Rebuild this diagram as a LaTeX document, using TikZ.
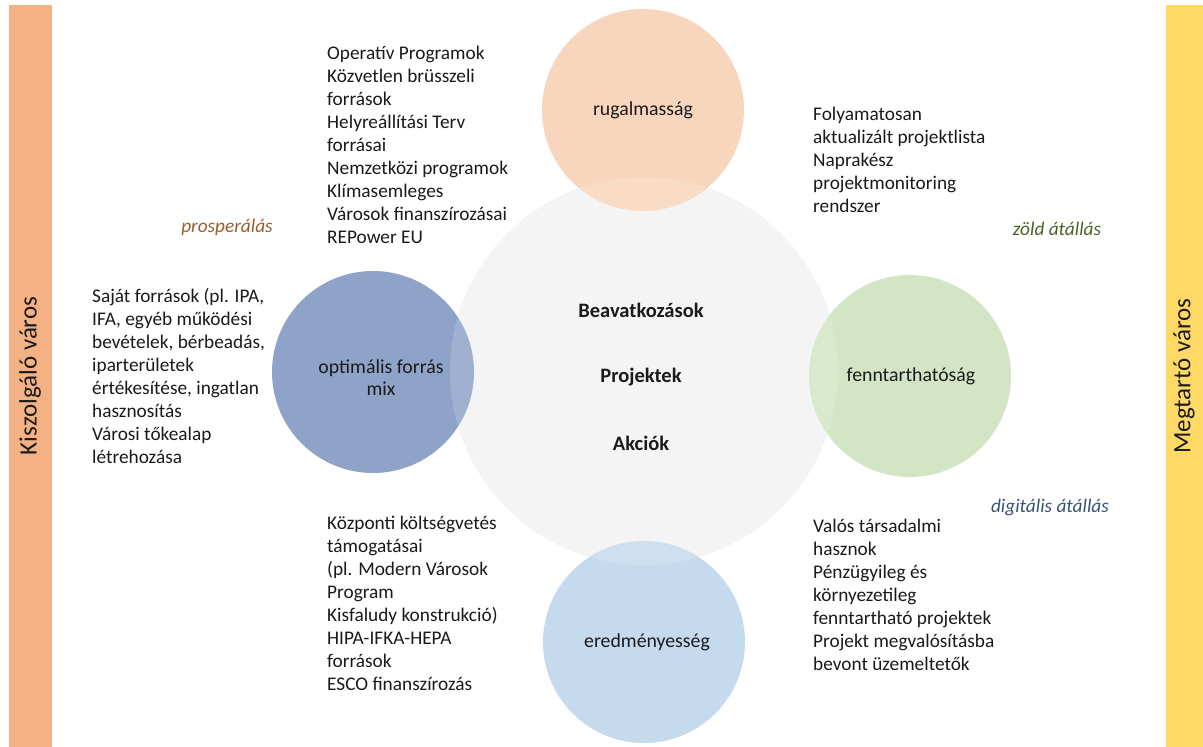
\documentclass[tikz,border=0pt]{standalone}
\usepackage{fontspec}
\setmainfont{Carlito}
\definecolor{barL}{HTML}{F4B183}
\definecolor{barR}{HTML}{FFD966}
\definecolor{peach}{HTML}{F8D6BD}
\definecolor{slate}{HTML}{8FA3C8}
\definecolor{sage}{HTML}{D4E5C6}
\definecolor{sky}{HTML}{C6DAEE}
\definecolor{hub}{HTML}{F4F4F4}
\definecolor{ink}{HTML}{1A1A1A}
\definecolor{brownt}{HTML}{9A5E2E}
\definecolor{greent}{HTML}{4F6228}
\definecolor{bluet}{HTML}{3A5278}
\begin{document}
\begin{tikzpicture}[x=1pt,y=-1pt,
  txt/.style={font=\fontsize{19.3}{23}\selectfont, text=ink, inner sep=0pt, align=left, anchor=north west},
  lab/.style={font=\fontsize{19.8}{22}\selectfont, text=ink, align=center, inner sep=0pt},
  boldlab/.style={font=\fontsize{20.5}{23}\selectfont\bfseries, text=ink, inner sep=0pt},
  itl/.style={font=\fontsize{19.3}{23}\selectfont\itshape, inner sep=0pt},
  sat/.style={circle, minimum size=202pt, inner sep=0pt, draw=none},
  barlab/.style={font=\fontsize{25}{30}\selectfont, text=ink, rotate=90, inner sep=0pt}]
\useasboundingbox (0,0) rectangle (1203,747);
\fill[white] (0,0) rectangle (1203,747);
% side bars
\fill[barL] (9,5) rectangle (52,747);
\fill[barR] (1166,5) rectangle (1203,747);
\node[barlab] (kv) at (30,376) {Kiszolgáló város};
\node[barlab] (mv) at (1184,376) {Megtartó város};
% hub
\node[circle, minimum size=388pt, inner sep=0pt, fill=hub] (hub) at (644,371) {};
% satellites
\node[sat, fill=peach] (top) at (643,110) {};
\node[sat, fill=slate] (left) at (373,372) {};
\node[sat, fill=sage] (right) at (910,376) {};
\node[sat, fill=sky] (bot) at (644,642) {};
\begin{scope}
  \clip (644,371) circle[radius=194];
  \fill[white, opacity=0.15] (643,110) circle[radius=101];
  \fill[white, opacity=0.15] (373,372) circle[radius=101];
  \fill[white, opacity=0.15] (910,376) circle[radius=101];
  \fill[white, opacity=0.15] (644,642) circle[radius=101];
\end{scope}
\node[lab] (toplab) at (643,110) {rugalmasság};
\node[lab] (leftlab) at (381,378) {optimális forrás\\mix};
\node[lab] (rightlab) at (911,376) {fenntarthatóság};
\node[lab] (botlab) at (647,642) {eredményesség};
% hub texts
\node[boldlab] (b1) at (641,310) {Beavatkozások};
\node[boldlab] (b2) at (641,377) {Projektek};
\node[boldlab] (b3) at (641,443) {Akciók};
% italic labels
\node[itl, text=brownt] (pros) at (227,227) {prosperálás};
\node[itl, text=greent] (zold) at (1057,229) {zöld átállás};
\node[itl, text=bluet] (digi) at (1050,507) {digitális átállás};
% text blocks
\node[txt] (tl) at (327,43.4) {\strut Operatív Programok\\Közvetlen brüsszeli\\források\\Helyreállítási Terv\\forrásai\\Nemzetközi programok\\Klímasemleges\\Városok finanszírozásai\\REPower EU};
\node[txt] (tr) at (813,104.4) {\strut Folyamatosan\\aktualizált projektlista\\Naprakész\\projektmonitoring\\rendszer};
\node[txt] (lt) at (92,286.4) {\strut Saját források (pl. IPA,\\IFA, egyéb működési\\bevételek, bérbeadás,\\iparterületek\\értékesítése, ingatlan\\hasznosítás\\Városi tőkealap\\létrehozása};
\node[txt] (bl) at (327,513.4) {\strut Központi költségvetés\\támogatásai\\(pl. Modern Városok\\Program\\Kisfaludy konstrukció)\\HIPA-IFKA-HEPA\\források\\ESCO finanszírozás};
\node[txt] (br) at (813,516.4) {\strut Valós társadalmi\\hasznok\\Pénzügyileg és\\környezetileg\\fenntartható projektek\\Projekt megvalósításba\\bevont üzemeltetők};
\end{tikzpicture}
\end{document}
